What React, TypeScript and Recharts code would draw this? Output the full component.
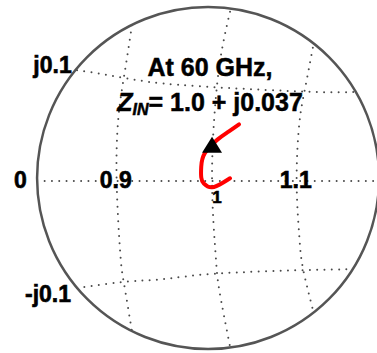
import React from 'react';
import { ComposedChart, Line, Scatter, XAxis, YAxis, ReferenceDot } from 'recharts';

// zoomed Smith chart around z = 1 (x ~ resistance, y ~ reactance)
const rCircle09 = [
  { x: 0.911, y: 0.173 }, { x: 0.903, y: 0.121 }, { x: 0.896, y: 0.071 }, { x: 0.894, y: 0 },
  { x: 0.898, y: -0.080 }, { x: 0.902, y: -0.113 }, { x: 0.911, y: -0.167 },
];
const rCircle10 = [
  { x: 1.020, y: 0.188 }, { x: 1.011, y: 0.146 }, { x: 1.004, y: 0.090 }, { x: 1.0, y: 0 },
  { x: 1.004, y: -0.082 }, { x: 1.008, y: -0.121 }, { x: 1.020, y: -0.184 },
];
const rCircle11 = [
  { x: 1.112, y: 0.148 }, { x: 1.103, y: 0.101 }, { x: 1.097, y: 0.064 }, { x: 1.094, y: 0 },
  { x: 1.097, y: -0.062 }, { x: 1.101, y: -0.097 }, { x: 1.112, y: -0.143 },
];
const xArcPos = [
  { x: 0.850, y: 0.123 }, { x: 0.883, y: 0.118 }, { x: 0.931, y: 0.110 },
  { x: 1.006, y: 0.104 }, { x: 1.112, y: 0.099 }, { x: 1.160, y: 0.099 },
];
const xArcNeg = [
  { x: 0.850, y: -0.119 }, { x: 0.903, y: -0.112 }, { x: 0.946, y: -0.109 },
  { x: 1.003, y: -0.103 }, { x: 1.103, y: -0.099 }, { x: 1.157, y: -0.098 },
];
const realAxis = [{ x: 0.814, y: 0 }, { x: 1.183, y: 0 }];

// measured input impedance trace
const zinTrace = [
  { x: 1.030, y: 0.063 }, { x: 1.017, y: 0.054 }, { x: 1.006, y: 0.046 }, { x: 0.992, y: 0.031 },
  { x: 0.988, y: 0.016 }, { x: 0.988, y: 0.004 }, { x: 0.991, y: -0.003 }, { x: 1.0, y: -0.007 },
  { x: 1.012, y: -0.002 }, { x: 1.020, y: 0.003 },
];
const marker60GHz = [{ x: 1.0, y: 0.037 }];

const tickLabels = ['0', '0.9', '1', '1.1', 'j0.1', '-j0.1'];
const tickAnchors = [
  { x: 0.787, y: -0.0078 }, { x: 0.893, y: -0.0078 }, { x: 1.0056, y: -0.0244 },
  { x: 1.093, y: -0.0078 }, { x: 0.8228, y: 0.12 }, { x: 0.8178, y: -0.1344 },
];
const tickSizes = [23, 23, 17, 23, 23, 23];

const edge = { x: 0.9956, y: 0.0033 };

const FONT = '"Liberation Sans", Arial, sans-serif';
const gridStyle = {
  stroke: '#4a4a4a',
  strokeWidth: 2,
  strokeDasharray: '0 7.3',
  strokeLinecap: 'round' as const,
};

const App: React.FC = () => {
  const grids = [rCircle09, rCircle10, rCircle11, xArcPos, xArcNeg, realAxis];

  return (
    <div style={{ position: 'absolute', left: 0, top: 0 }}>
      <ComposedChart width={377} height={353} margin={{ top: 0, right: 0, bottom: 0, left: 0 }}>
        <XAxis type="number" dataKey="x" domain={[0.7644, 1.1833]} hide allowDataOverflow />
        <YAxis type="number" dataKey="y" domain={[-0.1911, 0.2011]} hide allowDataOverflow />
        <ReferenceDot x={edge.x} y={edge.y} r={171} fill="none" stroke="#555" strokeWidth={2.5} />
        {grids.map((g, i) => (
          <Line
            key={i}
            data={g}
            dataKey="y"
            type="natural"
            dot={false}
            activeDot={false}
            isAnimationActive={false}
            {...gridStyle}
          />
        ))}
        <Line
          data={zinTrace}
          dataKey="y"
          type="natural"
          stroke="#ff0000"
          strokeWidth={4}
          strokeLinecap="round"
          dot={false}
          activeDot={false}
          isAnimationActive={false}
        />
        <Scatter
          data={marker60GHz}
          dataKey="y"
          isAnimationActive={false}
          shape={(p: any) => (
            <polygon
              points={`${p.cx},${p.cy - 11} ${p.cx - 10},${p.cy + 5} ${p.cx + 10},${p.cy + 5}`}
              fill="#000"
            />
          )}
        />
        {tickLabels.map((t, i) => (
          <ReferenceDot
            key={t}
            x={tickAnchors[i].x}
            y={tickAnchors[i].y}
            r={0}
            shape={(p: any) => (
              <text x={p.cx} y={p.cy} textAnchor="middle" fontFamily={FONT} fontWeight="bold" fontSize={tickSizes[i]} fill="#000" stroke="#000" strokeWidth={0.6}>
                {t}
              </text>
            )}
          />
        ))}
        <ReferenceDot
          x={0.9978}
          y={0.1167}
          r={0}
          shape={(p: any) => (
            <text x={p.cx} y={p.cy} textAnchor="middle" fontFamily={FONT} fontWeight="bold" fontSize={25} fill="#000" stroke="#000" strokeWidth={0.5}>
              At 60 GHz,
            </text>
          )}
        />
        <ReferenceDot
          x={0.9978}
          y={0.0778}
          r={0}
          shape={(p: any) => (
            <text x={p.cx} y={p.cy} textAnchor="middle" fontFamily={FONT} fontWeight="bold" fontSize={25} fill="#000" stroke="#000" strokeWidth={0.5}>
              <tspan fontStyle="italic">Z</tspan>
              <tspan fontStyle="italic" fontSize={16} dy={4}>IN</tspan>
              <tspan dy={-4}>= 1.0 + j0.037</tspan>
            </text>
          )}
        />
      </ComposedChart>
    </div>
  );
};

export default App;
